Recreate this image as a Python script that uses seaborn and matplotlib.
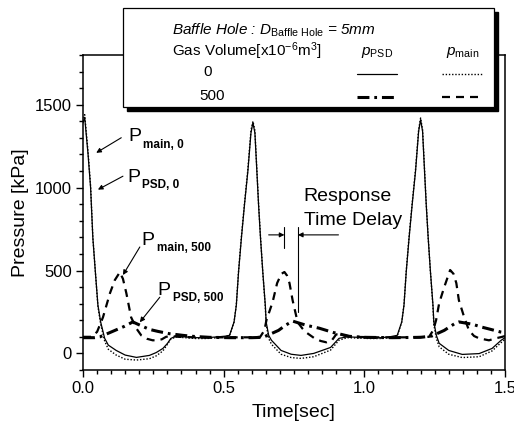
import numpy as np
import pandas as pd
import seaborn as sns
import matplotlib
matplotlib.use("Agg")
import matplotlib.pyplot as plt
from matplotlib.patches import Rectangle
from matplotlib.lines import Line2D

# ---------------------------------------------------------------------------
# data (time [s], pressure [kPa])
# ---------------------------------------------------------------------------
t_0 = [0.000, 0.006, 0.018, 0.027, 0.035, 0.044, 0.053, 0.063, 0.077, 0.090,
       0.118, 0.150, 0.190, 0.236, 0.260, 0.284, 0.300, 0.312, 0.330, 0.360,
       0.400, 0.440, 0.480, 0.505, 0.521, 0.537, 0.545, 0.553, 0.563, 0.574,
       0.586, 0.597, 0.604, 0.611, 0.618, 0.624, 0.631, 0.639, 0.648, 0.651,
       0.660, 0.670, 0.704, 0.740, 0.775, 0.820, 0.880, 0.910, 0.940, 0.980,
       1.020, 1.060, 1.090, 1.117, 1.133, 1.141, 1.149, 1.159, 1.170, 1.182,
       1.193, 1.200, 1.207, 1.214, 1.220, 1.227, 1.235, 1.244, 1.247, 1.256,
       1.266, 1.300, 1.348, 1.408, 1.454, 1.486, 1.500]
p_psd_0 = [1390, 1424, 1200, 1000, 697, 491, 291, 188, 91, 50,
           18, -10, -24, -12, 5, 30, 60, 90, 105, 100,
           95, 95, 100, 104, 109, 190, 291, 493, 695, 897,
           1099, 1330, 1392, 1330, 1099, 897, 695, 493, 291, 190,
           109, 79, 18, -5, -12, 0, 36, 91, 100, 97,
           95, 95, 100, 109, 190, 291, 493, 695, 897, 1099,
           1340, 1410, 1340, 1099, 897, 695, 493, 291, 190, 109,
           61, 18, -6, -1, 30, 79, 95]
p_main_0 = [1400, 1440, 1215, 1010, 700, 490, 285, 175, 75, 25,
            -10, -35, -40, -32, -15, 15, 55, 85, 100, 95,
            90, 90, 95, 100, 110, 190, 295, 500, 705, 905,
            1110, 1345, 1400, 1345, 1110, 905, 700, 490, 280, 175,
            90, 55, -5, -25, -30, -20, 20, 80, 95, 92,
            90, 90, 95, 105, 190, 295, 500, 705, 905, 1110,
            1350, 1420, 1350, 1110, 905, 700, 490, 280, 175, 90,
            40, -5, -25, -20, 15, 65, 85]

t_main_500 = [0.000, 0.030, 0.050, 0.071, 0.096, 0.113, 0.131, 0.142, 0.154,
              0.171, 0.190, 0.207, 0.228, 0.248, 0.265, 0.280, 0.295, 0.310,
              0.340, 0.400, 0.500, 0.600, 0.630, 0.645, 0.652, 0.674, 0.690,
              0.705, 0.716, 0.725, 0.734, 0.745, 0.763, 0.780, 0.793, 0.823,
              0.845, 0.865, 0.885, 0.900, 0.920, 0.960, 1.050, 1.150, 1.230,
              1.245, 1.255, 1.266, 1.284, 1.305, 1.317, 1.327, 1.336, 1.355,
              1.372, 1.390, 1.408, 1.443, 1.467, 1.490, 1.500]
p_main_500 = [100, 100, 130, 218, 364, 442, 490, 450, 364,
              218, 150, 109, 88, 79, 80, 85, 100, 105,
              100, 97, 97, 97, 100, 140, 200, 310, 424,
              480, 491, 470, 424, 321, 188, 150, 127, 91,
              75, 67, 80, 115, 110, 100, 97, 97, 100,
              140, 200, 303, 400, 503, 480, 424, 321, 218,
              139, 105, 91, 79, 91, 100, 105]

t_psd_500 = [0.000, 0.040, 0.060, 0.100, 0.148, 0.177, 0.195, 0.236, 0.266,
             0.307, 0.355, 0.390, 0.450, 0.520, 0.600, 0.640, 0.695, 0.720,
             0.745, 0.793, 0.840, 0.888, 0.947, 1.000, 1.100, 1.200, 1.240,
             1.284, 1.325, 1.336, 1.384, 1.419, 1.449, 1.485, 1.500]
p_psd_500 = [95, 95, 100, 129, 164, 190, 176, 145, 133,
             119, 109, 103, 97, 95, 95, 97, 139, 170,
             195, 170, 152, 127, 103, 97, 95, 97, 105,
             139, 184, 190, 176, 158, 145, 129, 125]

x_ticks = [0.0, 0.5, 1.0, 1.5]
y_ticks = [0, 500, 1000, 1500]

# ---------------------------------------------------------------------------
sns.set_theme(style="ticks")
plt.rcParams['font.family'] = ['Liberation Sans', 'DejaVu Sans']
plt.rcParams['mathtext.fontset'] = 'custom'
plt.rcParams['mathtext.rm'] = 'Liberation Sans'
plt.rcParams['mathtext.it'] = 'Liberation Sans:italic'
plt.rcParams['mathtext.bf'] = 'Liberation Sans:bold'

W, H = 514, 430
fig = plt.figure(figsize=(W / 100, H / 100), dpi=100)
ax = fig.add_axes([83 / W, 60 / H, 422 / W, 315 / H])

df0 = pd.DataFrame({'t': t_0, 'psd': p_psd_0, 'main': p_main_0})
dfm = pd.DataFrame({'t': t_main_500, 'p': p_main_500})
dfp = pd.DataFrame({'t': t_psd_500, 'p': p_psd_500})

sns.lineplot(data=df0, x='t', y='main', ax=ax, color='black', lw=1.0)
ax.lines[-1].set_dashes((1, 1.3))
sns.lineplot(data=df0, x='t', y='psd', ax=ax, color='black', lw=0.9)
sns.lineplot(data=dfm, x='t', y='p', ax=ax, color='black', lw=1.6)
ax.lines[-1].set_dashes((3.6, 2.7))
sns.lineplot(data=dfp, x='t', y='p', ax=ax, color='black', lw=2.2)
ax.lines[-1].set_dashes((3.9, 1.6, 0.9, 1.6))

ax.set_xlim(0, 1.5)
ax.set_ylim(-100, 1800)
ax.set_xticks(x_ticks)
ax.set_yticks(y_ticks)
ax.set_xticklabels([f"{v:.1f}" for v in x_ticks])
ax.xaxis.set_minor_locator(matplotlib.ticker.MultipleLocator(0.05))
ax.yaxis.set_minor_locator(matplotlib.ticker.MultipleLocator(100))
ax.tick_params(which='both', direction='out', color='black', width=1.0,
               labelsize=12, labelcolor='black', top=False, right=False)
ax.tick_params(which='major', length=5, pad=3)
ax.tick_params(which='minor', length=3)
for s in ax.spines.values():
    s.set_visible(True)
    s.set_color('black')
    s.set_linewidth(1.1)
ax.set_xlabel('Time[sec]', fontsize=14, color='black', labelpad=6)
ax.set_ylabel('Pressure [kPa]', fontsize=14, color='black', labelpad=4)

# curve labels
arrow = dict(arrowstyle='-|>', color='black', lw=0.8, mutation_scale=7,
             shrinkA=0, shrinkB=0)
ax.annotate('', xy=(0.047, 1210), xytext=(0.136, 1301), arrowprops=arrow)
ax.annotate('', xy=(0.053, 988), xytext=(0.142, 1069), arrowprops=arrow)
ax.annotate('', xy=(0.142, 473), xytext=(0.202, 642), arrowprops=arrow)
ax.annotate('', xy=(0.202, 188), xytext=(0.273, 339), arrowprops=arrow)

labels = [(0.160, 1279, 'main, 0'), (0.156, 1036, 'PSD, 0'),
          (0.209, 655, 'main, 500'), (0.266, 352, 'PSD, 500')]
for lx, ly, sub in labels:
    ax.text(lx, ly, 'P', fontsize=14, va='baseline', ha='left', color='black')
    ax.annotate(sub, xy=(lx, ly), xytext=(11, -4.5), textcoords='offset points',
                fontsize=8.5, fontweight='bold', va='baseline', ha='left',
                color='black')

# response time delay
ax.text(0.784, 921, 'Response', fontsize=14, va='baseline', color='black')
ax.text(0.784, 776, 'Time Delay', fontsize=14, va='baseline', color='black')
ax.annotate('', xy=(0.716, 715), xytext=(0.660, 715), arrowprops=arrow)
ax.annotate('', xy=(0.764, 715), xytext=(0.908, 715), arrowprops=arrow)
ax.plot([0.716, 0.716], [636, 765], color='black', lw=0.8)
ax.plot([0.764, 0.764], [248, 765], color='black', lw=0.8)

# legend box (figure pixel coords)
def px(x, y):
    return x / W, 1 - y / H

bx0, bx1, by0, by1 = 123, 494, 8, 107
sh = Rectangle(px(bx0 + 4, by1 + 4), (bx1 - bx0) / W, (by1 - by0) / H,
               transform=fig.transFigure, facecolor='black', edgecolor='black',
               zorder=10)
box = Rectangle(px(bx0, by1), (bx1 - bx0) / W, (by1 - by0) / H,
                transform=fig.transFigure, facecolor='white', edgecolor='black',
                lw=0.9, zorder=11)
fig.add_artist(sh)
fig.add_artist(box)

tk = dict(fontsize=11, color='black', zorder=12, va='center')
fig.text(*px(172, 30), r'Baffle Hole : $D_{\mathrm{Baffle\ Hole}}$ = 5mm',
         style='italic', ha='left', **tk)
fig.text(*px(172, 51), r'Gas Volume[x10$^{\mathrm{-6}}$m$^{\mathrm{3}}$]',
         ha='left', **tk)
fig.text(*px(208, 72), '0', ha='center', **tk)
fig.text(*px(212, 96), '500', ha='center', **tk)
fig.text(*px(377, 52), r'$p_{\mathrm{PSD}}$', ha='center', **tk)
fig.text(*px(463, 52), r'$p_{\mathrm{main}}$', ha='center', **tk)

samples = [
    ((357, 397), 74, dict(lw=0.9)),
    ((442, 482), 74, dict(lw=1.0, dashes=(1, 1.3))),
    ((357, 397), 97, dict(lw=2.2, dashes=(3.9, 1.6, 0.9, 1.6))),
    ((442, 482), 97, dict(lw=1.6, dashes=(3.6, 2.7))),
]
for (xa, xb), yy, kw in samples:
    (fx0, fy), (fx1, _) = px(xa, yy), px(xb, yy)
    fig.add_artist(Line2D([fx0, fx1], [fy, fy], transform=fig.transFigure,
                          color='black', zorder=12, **kw))

plt.savefig('out.png', dpi=100)
